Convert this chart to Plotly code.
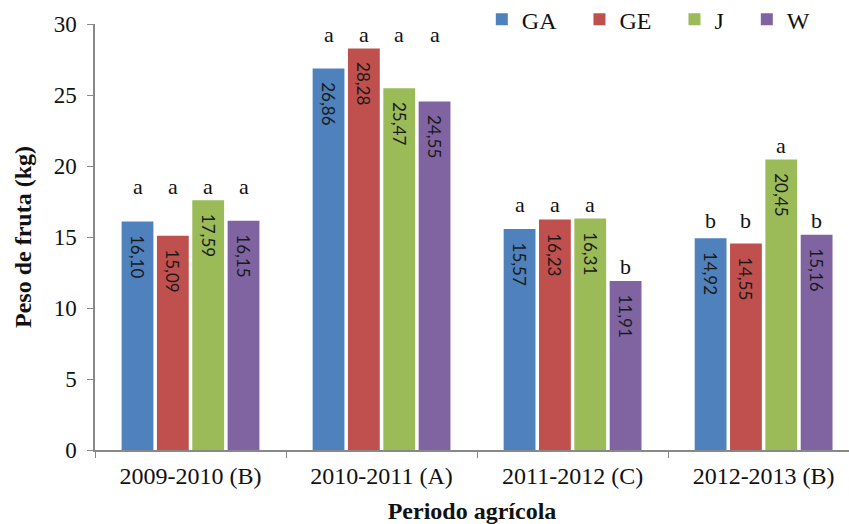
import plotly.graph_objects as go

periods = ["2009-2010 (B)", "2010-2011 (A)", "2011-2012 (C)", "2012-2013 (B)"]
series_names = ["GA", "GE", "J", "W"]
GA = [16.10, 26.86, 15.57, 14.92]
GE = [15.09, 28.28, 16.23, 14.55]
J = [17.59, 25.47, 16.31, 20.45]
W = [16.15, 24.55, 11.91, 15.16]
letters_GA = ["a", "a", "a", "b"]
letters_GE = ["a", "a", "a", "b"]
letters_J = ["a", "a", "a", "a"]
letters_W = ["a", "a", "b", "b"]

colors = ["#4F81BD", "#C0504D", "#9BBB59", "#8064A2"]
values = [GA, GE, J, W]
letters = [letters_GA, letters_GE, letters_J, letters_W]

SERIF = "Liberation Serif, Times New Roman, serif"
PAD = "\u2002\u2009"       # small lead-in so labels sit a little below the bar top
LEG_PAD = "\u00a0" * 3     # extra spacing between legend entries

fig = go.Figure()
for name, vals, col in zip(series_names, values, colors):
    fig.add_trace(go.Bar(
        x=periods, y=vals, name=name + LEG_PAD,
        marker=dict(color=col, line=dict(width=0)),
        texttemplate=PAD + "%{y:.2f}",
        textposition="inside",
        insidetextanchor="end",
        textangle=90,
        constraintext="none",
        textfont=dict(family="Lato, sans-serif", size=17, color="#1a1a1a"),
        hoverinfo="skip",
    ))

# significance letters above bars
n_series = len(series_names)
bargap = 0.26
groupgap = 0.1
slot = (1 - bargap) / n_series
annotations = []
for ci, period in enumerate(periods):
    for si in range(n_series):
        let = letters[si][ci]
        same = [values[k][ci] for k in range(n_series) if letters[k][ci] == let]
        ytop = max(same) + 1.0
        xoff = -(1 - bargap) / 2 + slot * (si + 0.5)
        annotations.append(dict(
            x=ci + xoff, y=ytop, xref="x", yref="y",
            text=let, showarrow=False, yanchor="middle",
            font=dict(family=SERIF, size=22, color="#111"),
        ))

fig.update_layout(
    width=849, height=524,
    margin=dict(l=95, r=0, t=24, b=74, autoexpand=False),
    paper_bgcolor="white", plot_bgcolor="white",
    barmode="group", bargap=bargap, bargroupgap=groupgap,
    separators=",.",
    font=dict(family=SERIF, size=24, color="#111"),
    legend=dict(
        orientation="h", x=0.513, xanchor="left", y=1.01, yanchor="middle",
        font=dict(family=SERIF, size=24, color="#111"),
        bgcolor="rgba(0,0,0,0)",
    ),
    annotations=annotations,
    showlegend=True,
)
fig.update_xaxes(
    type="category", range=[-0.5, 3.447],
    showline=True, linecolor="#888", linewidth=1.5,
    ticks="outside", tickson="boundaries", ticklen=6, tickcolor="#888",
    showgrid=False, zeroline=False,
    tickfont=dict(family=SERIF, size=24, color="#111"),
    ticklabelstandoff=3,
    title=dict(text="<b>Periodo agrícola</b>", font=dict(family=SERIF, size=24, color="#111"), standoff=20),
    automargin=False,
)
fig.update_yaxes(
    range=[0, 30], dtick=5,
    showline=True, linecolor="#888", linewidth=1.5,
    ticks="outside", ticklen=6, tickcolor="#888",
    showgrid=False, zeroline=False,
    tickfont=dict(family=SERIF, size=23, color="#111"),
    ticklabelstandoff=6,
    title=dict(text="<b>Peso de fruta (kg)</b>", font=dict(family=SERIF, size=24, color="#111"), standoff=15),
    automargin=False,
)

fig.write_html("out.html", config={"displayModeBar": False},
               post_script="document.body.style.margin='0';")
